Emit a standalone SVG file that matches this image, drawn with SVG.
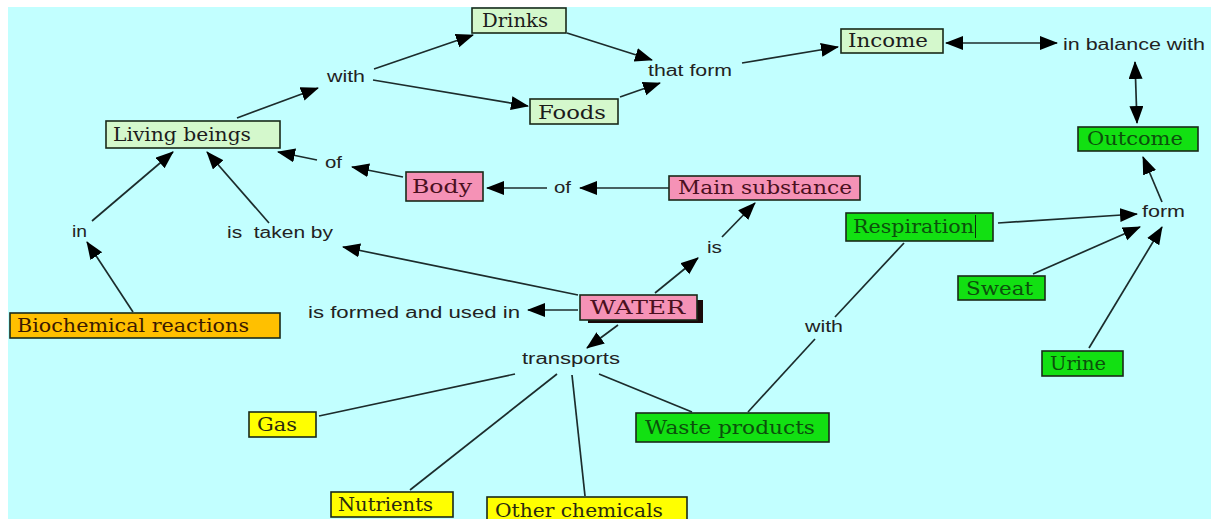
<svg xmlns="http://www.w3.org/2000/svg" width="1211" height="519" viewBox="0 0 1211 519">
<style>
.n rect.b{stroke:#1a2a1a;stroke-width:1.6}
.n text{font-family:"DejaVu Serif","Liberation Serif",serif;font-size:18px}
.lg rect.b{fill:#d4f8cc}
.lg text{fill:#1c1c1c}
.pk rect.b{fill:#f592b6}
.pk text{fill:#4a1020}
.gr rect.b{fill:#12e012}
.gr text{fill:#0c500c}
.yl rect.b{fill:#ffff00}
.yl text{fill:#2a2a10}
.or rect.b{fill:#ffc000}
.or text{fill:#3a1a00}
.l text{font-family:"Liberation Sans",Arial,sans-serif;font-size:16px;fill:#222}
#edges line{stroke:#1c2c2c;stroke-width:1.7;fill:none}
#edges line.a{marker-end:url(#ah)}
#edges line.d{marker-end:url(#ah);marker-start:url(#ah)}
</style>
<defs>
<marker id="ah" markerUnits="userSpaceOnUse" markerWidth="20" markerHeight="16" refX="17" refY="7" orient="auto-start-reverse">
<path d="M0,0 L18,7 L0,14 z" fill="#000"/>
</marker>
</defs>
<rect x="0" y="0" width="1211" height="519" fill="#ffffff"/>
<rect x="8" y="7" width="1203" height="512" fill="#c2ffff"/>

<g id="edges">
<line class="a" x1="237" y1="118" x2="318" y2="88"/>
<line class="a" x1="374" y1="69" x2="473" y2="35"/>
<line class="a" x1="373" y1="80" x2="528" y2="106"/>
<line class="a" x1="567" y1="33" x2="652" y2="60"/>
<line class="a" x1="620" y1="97" x2="660" y2="83"/>
<line class="a" x1="742" y1="63" x2="838" y2="47"/>
<line class="d" x1="946" y1="43" x2="1057" y2="43"/>
<line class="d" x1="1135" y1="62" x2="1137" y2="123"/>
<line class="a" x1="1162" y1="202" x2="1143" y2="157"/>
<line class="a" x1="998" y1="223" x2="1137" y2="214"/>
<line class="a" x1="1033" y1="274" x2="1140" y2="227"/>
<line class="a" x1="1089" y1="348" x2="1162" y2="227"/>
<line x1="904" y1="243" x2="835" y2="317"/>
<line x1="815" y1="339" x2="748" y2="412"/>
<line x1="599" y1="374" x2="692" y2="412"/>
<line x1="515" y1="374" x2="319" y2="416"/>
<line x1="557" y1="374" x2="410" y2="490"/>
<line x1="572" y1="375" x2="585" y2="496"/>
<line class="a" x1="618" y1="325" x2="587" y2="348"/>
<line class="a" x1="578" y1="310" x2="528" y2="310"/>
<line class="a" x1="578" y1="295" x2="343" y2="247"/>
<line class="a" x1="655" y1="293" x2="698" y2="258"/>
<line class="a" x1="722" y1="237" x2="755" y2="203"/>
<line class="a" x1="669" y1="188" x2="580" y2="188"/>
<line class="a" x1="547" y1="188" x2="487" y2="188"/>
<line class="a" x1="403" y1="177" x2="352" y2="167"/>
<line class="a" x1="317" y1="160" x2="278" y2="152"/>
<line class="a" x1="269" y1="223" x2="207" y2="152"/>
<line class="a" x1="92" y1="221" x2="173" y2="152"/>
<line class="a" x1="133" y1="312" x2="87" y2="242"/>
</g>

<g id="n-drinks" class="n lg"><rect class="b" x="472" y="8" width="94" height="25"/><text x="482" y="27" textLength="66" lengthAdjust="spacingAndGlyphs">Drinks</text></g>
<g id="n-foods" class="n lg"><rect class="b" x="530" y="99" width="88" height="25"/><text x="538" y="119" textLength="68" lengthAdjust="spacingAndGlyphs">Foods</text></g>
<g id="n-income" class="n lg"><rect class="b" x="841" y="29" width="102" height="24"/><text x="848" y="47" textLength="80" lengthAdjust="spacingAndGlyphs">Income</text></g>
<g id="n-living" class="n lg"><rect class="b" x="106" y="121" width="174" height="27"/><text x="113" y="141" textLength="138" lengthAdjust="spacingAndGlyphs">Living beings</text></g>
<g id="n-body" class="n pk"><rect class="b" x="406" y="172" width="77" height="29"/><text x="412" y="193" textLength="60" lengthAdjust="spacingAndGlyphs">Body</text></g>
<g id="n-main" class="n pk"><rect class="b" x="669" y="176" width="191" height="24"/><text x="678" y="194" textLength="174" lengthAdjust="spacingAndGlyphs">Main substance</text></g>
<g id="n-outcome" class="n gr"><rect class="b" x="1078" y="127" width="120" height="24"/><text x="1087" y="145" textLength="96" lengthAdjust="spacingAndGlyphs">Outcome</text></g>
<g id="n-resp" class="n gr"><rect class="b" x="846" y="213" width="147" height="28"/><text x="853" y="233" textLength="121" lengthAdjust="spacingAndGlyphs">Respiration</text><line x1="975.5" y1="215" x2="975.5" y2="238" stroke="#0c300c" stroke-width="1"/></g>
<g id="n-sweat" class="n gr"><rect class="b" x="958" y="276" width="87" height="24"/><text x="966" y="295" textLength="67" lengthAdjust="spacingAndGlyphs">Sweat</text></g>
<g id="n-urine" class="n gr"><rect class="b" x="1042" y="351" width="81" height="25"/><text x="1050" y="370" textLength="56" lengthAdjust="spacingAndGlyphs">Urine</text></g>
<g id="n-water" class="n pk"><rect x="588" y="300" width="115" height="23" fill="#1a0a0a"/><rect class="b" x="580" y="295" width="117" height="25"/><text x="590" y="314" textLength="95" lengthAdjust="spacingAndGlyphs">WATER</text></g>
<g id="n-bio" class="n or"><rect class="b" x="10" y="313" width="270" height="25"/><text x="17" y="332" textLength="232" lengthAdjust="spacingAndGlyphs">Biochemical reactions</text></g>
<g id="n-gas" class="n yl"><rect class="b" x="249" y="412" width="67" height="25"/><text x="257" y="431" textLength="40" lengthAdjust="spacingAndGlyphs">Gas</text></g>
<g id="n-nutr" class="n yl"><rect class="b" x="331" y="492" width="122" height="25"/><text x="338" y="511" textLength="95" lengthAdjust="spacingAndGlyphs">Nutrients</text></g>
<g id="n-other" class="n yl"><rect class="b" x="487" y="497" width="200" height="30"/><text x="495" y="517" textLength="168" lengthAdjust="spacingAndGlyphs">Other chemicals</text></g>
<g id="n-waste" class="n gr"><rect class="b" x="636" y="413" width="193" height="29"/><text x="645" y="434" textLength="170" lengthAdjust="spacingAndGlyphs">Waste products</text></g>

<g id="l-with1" class="l"><text x="327" y="82" textLength="38" lengthAdjust="spacingAndGlyphs">with</text></g>
<g id="l-thatform" class="l"><text x="648" y="76" textLength="84" lengthAdjust="spacingAndGlyphs">that form</text></g>
<g id="l-balance" class="l"><text x="1063" y="50" textLength="142" lengthAdjust="spacingAndGlyphs">in balance with</text></g>
<g id="l-of1" class="l"><text x="325" y="168" textLength="17" lengthAdjust="spacingAndGlyphs">of</text></g>
<g id="l-of2" class="l"><text x="554" y="193" textLength="17" lengthAdjust="spacingAndGlyphs">of</text></g>
<g id="l-in" class="l"><text x="72" y="237" textLength="15" lengthAdjust="spacingAndGlyphs">in</text></g>
<g id="l-taken" class="l"><text x="227" y="238" textLength="106" lengthAdjust="spacingAndGlyphs" xml:space="preserve">is  taken by</text></g>
<g id="l-is" class="l"><text x="707" y="253" textLength="15" lengthAdjust="spacingAndGlyphs">is</text></g>
<g id="l-form" class="l"><text x="1142" y="217" textLength="43" lengthAdjust="spacingAndGlyphs">form</text></g>
<g id="l-formed" class="l"><text x="308" y="318" textLength="212" lengthAdjust="spacingAndGlyphs">is formed and used in</text></g>
<g id="l-transports" class="l"><text x="522" y="364" textLength="98" lengthAdjust="spacingAndGlyphs">transports</text></g>
<g id="l-with2" class="l"><text x="805" y="332" textLength="38" lengthAdjust="spacingAndGlyphs">with</text></g>
</svg>
